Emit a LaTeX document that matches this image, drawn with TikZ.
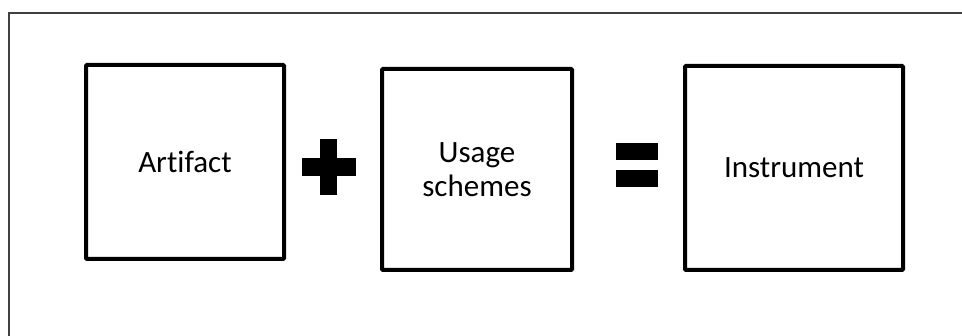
\documentclass[tikz,border=0pt]{standalone}
\usepackage{fontspec}
\setmainfont{Carlito}[Ligatures=NoCommon]
\usepackage{tikz}

\tikzset{
  part/.style={draw, line width=4pt, rounded corners=1pt, align=center,
    inner sep=0pt, font=\fontsize{31}{34}\selectfont}
}

\begin{document}
\begin{tikzpicture}[x=1pt,y=-1pt]
    \useasboundingbox (0,0) rectangle (962,336);
    \draw[line width=1.2pt, black!75] (9,13) rectangle (980,360);
    \node[part, minimum width=198pt, minimum height=194pt] (artifact) at (185,162) {Artifact};
    \node[part, minimum width=190pt, minimum height=201pt] (schemes) at (477,169.5) {Usage\\schemes};
    \node[part, minimum width=218pt, minimum height=204pt] (instrument) at (794,168) {Instrument};
    \fill (302,158) rectangle (356,176);
    \fill (320,139) rectangle (337,195);
    \fill (616,143) rectangle (658,160);
    \fill (616,170) rectangle (658,187);
\end{tikzpicture}
\end{document}
